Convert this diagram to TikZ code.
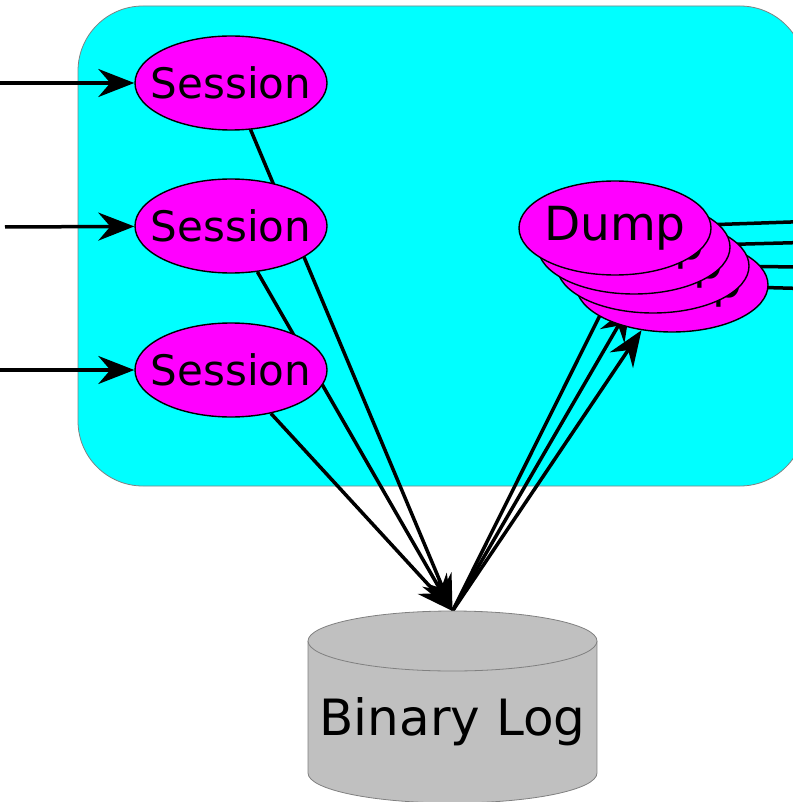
\documentclass[tikz,border=0pt]{standalone}
\usepackage{fontspec}
\setmainfont{DejaVu Sans}
\usetikzlibrary{shapes.geometric,arrows.meta}
\pgfdeclarelayer{back}
\pgfdeclarelayer{links}
\pgfsetlayers{back,links,main}
\definecolor{panel}{HTML}{00FFFF}
\definecolor{blob}{HTML}{FF00FF}
\definecolor{disk}{HTML}{C0C0C0}
\definecolor{rim}{HTML}{808080}
% text that does not widen its ellipse
\newcommand{\zerowide}[1]{\makebox[0pt][c]{#1}}

\begin{document}
\begin{tikzpicture}[x=1pt,y=-1pt,
  blobnode/.style={ellipse, draw=black, line width=1.4pt, fill=blob,
    minimum width=192pt, minimum height=94pt, inner sep=0pt},
  sesslabel/.style={blobnode, font=\fontsize{42}{42}\selectfont},
  dumplabel/.style={blobnode, font=\fontsize{47}{47}\selectfont},
  link/.style={line width=3.5pt, -{Stealth[length=36pt,width=28pt,inset=12pt]}},
  feed/.style={line width=3.5pt}]
\useasboundingbox (0,0) rectangle (792,802);
\clip (0,0) rectangle (792,802);

% server panel
\begin{pgfonlayer}{back}
  \draw[rounded corners=65pt, fill=panel, draw=rim, line width=0.8pt]
    (78,6) rectangle (805,486);
\end{pgfonlayer}

% client sessions
\node[sesslabel] (s1) at (231,83)  {\zerowide{Session}};
\node[sesslabel] (s2) at (231,226) {\zerowide{Session}};
\node[sesslabel] (s3) at (231,370) {\zerowide{Session}};

% dump threads, back to front
\node[dumplabel] (d4) at (672,285) {\zerowide{Dump}};
\node[dumplabel] (d3) at (653,266) {\zerowide{Dump}};
\node[dumplabel] (d2) at (634,247) {\zerowide{Dump}};
\node[dumplabel] (d1) at (615,228) {\zerowide{Dump}};

% binary log cylinder
\fill[disk] (308,641) rectangle (597,773);
\fill[disk] (452.5,773) ellipse[x radius=144.5, y radius=30];
\draw[rim, line width=0.8pt] (308,641) -- (308,773)
  arc[start angle=180, end angle=0, x radius=144.5, y radius=30] -- (597,641);
\draw[rim, line width=0.8pt, fill=disk] (452.5,641) ellipse[x radius=144.5, y radius=30];
\node[font=\fontsize{50}{50}\selectfont] (blog) at (452.5,722) {Binary Log};
\coordinate (blogtop) at (452.5,611);

% free ends of the connectors
\coordinate (in1) at (0,83);
\coordinate (in2) at (5,227);
\coordinate (in3) at (0,370);
\coordinate (o1) at (820,221);
\coordinate (o2) at (820,242);
\coordinate (o3) at (820,267);
\coordinate (o4) at (820,289);

\begin{pgfonlayer}{links}
  \draw[link] (in1) -- (s1);
  \draw[link] (in2) -- (s2);
  \draw[link] (in3) -- (s3);
  \draw[link] (s1) -- (blogtop);
  \draw[link] (s2) -- (blogtop);
  \draw[link] (s3) -- (blogtop);
  % the tips of these two sit under the thread lying in front of them
  \draw[link, shorten >=-30pt] (blogtop) -- (d2);
  \draw[link, shorten >=-8pt] (blogtop) -- (d3);
  \draw[link] (blogtop) -- (d4);
  \draw[feed] (d1.center) -- (o1);
  \draw[feed] (d2.center) -- (o2);
  \draw[feed] (d3.center) -- (o3);
  \draw[feed] (d4.center) -- (o4);
\end{pgfonlayer}
\end{tikzpicture}
\end{document}
